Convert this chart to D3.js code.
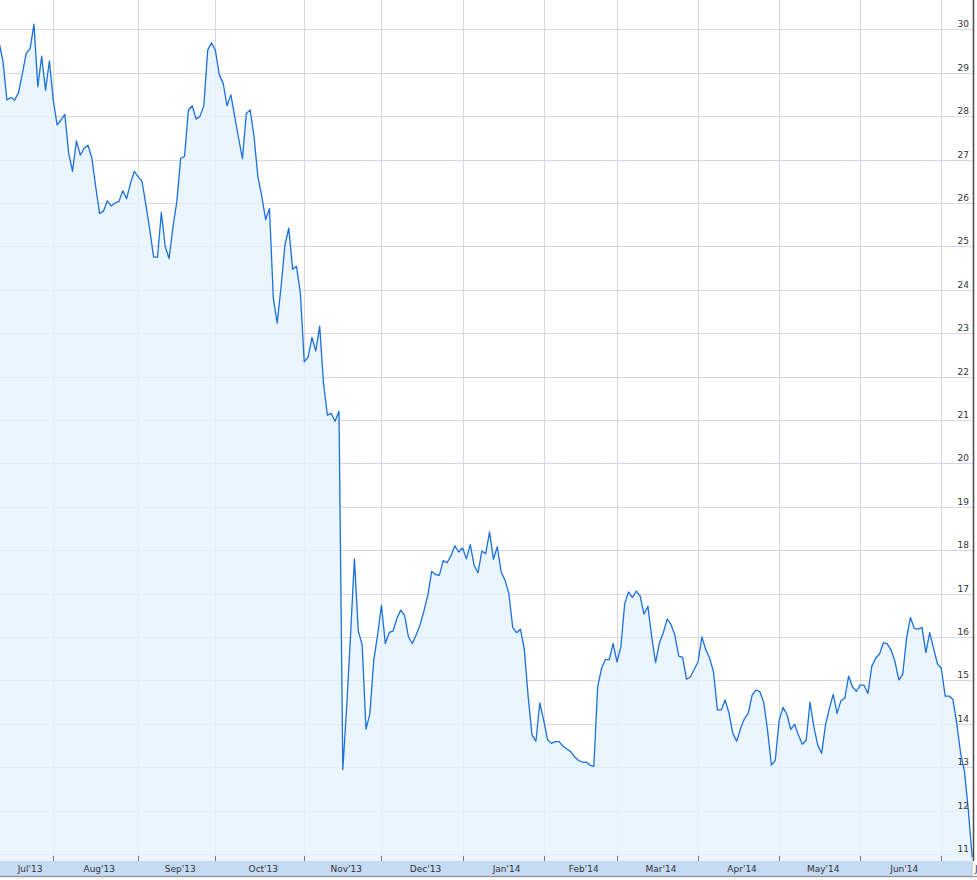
<!DOCTYPE html>
<html>
<head>
<meta charset="utf-8">
<script src="https://cdn.jsdelivr.net/npm/d3@7"></script>
<style>
  html, body { margin: 0; padding: 0; background: #fff; }
  svg { display: block; font-family: "DejaVu Sans", Verdana, sans-serif; }
</style>
</head>
<body>
<div id="chart"></div>
<script>
// daily closes, one per trading day (Jul 12 2013 .. Jul 14 2014)
var prices = [
  29.69, 29.25, 28.37, 28.43, 28.37, 28.54, 28.98, 29.45, 29.55, 30.12,
  28.68, 29.38, 28.6, 29.27, 28.37, 27.8, 27.91, 28.04, 27.14, 26.73,
  27.43, 27.1, 27.26, 27.33, 27.03, 26.37, 25.76, 25.81, 26.05, 25.93,
  26.0, 26.03, 26.28, 26.1, 26.45, 26.73, 26.6, 26.5, 25.95, 25.38,
  24.75, 24.75, 25.78, 24.99, 24.72, 25.45, 26.03, 27.03, 27.07, 28.14,
  28.24, 27.93, 28.0, 28.24, 29.52, 29.69, 29.51, 28.95, 28.76, 28.24,
  28.49, 27.99, 27.49, 27.02, 28.06, 28.14, 27.53, 26.6, 26.16, 25.62,
  25.87, 23.8, 23.23, 24.07, 25.03, 25.42, 24.47, 24.54, 23.93, 22.34,
  22.45, 22.9, 22.59, 23.16, 21.84, 21.11, 21.15, 20.97, 21.2, 12.95,
  14.41, 16.05, 17.8, 16.14, 15.82, 13.88, 14.23, 15.46, 16.05, 16.73,
  15.85, 16.1, 16.14, 16.43, 16.62, 16.5, 16.0, 15.85, 16.05, 16.28,
  16.6, 16.96, 17.51, 17.44, 17.42, 17.76, 17.71, 17.87, 18.1, 17.96,
  18.05, 17.8, 18.13, 17.65, 17.48, 17.98, 17.92, 18.42, 17.79, 18.08,
  17.5, 17.31, 17.0, 16.22, 16.1, 16.18, 15.72, 14.62, 13.74, 13.6,
  14.48, 14.09, 13.64, 13.55, 13.59, 13.59, 13.49, 13.42, 13.36, 13.24,
  13.16, 13.12, 13.12, 13.05, 13.02, 14.85, 15.28, 15.48, 15.48, 15.85,
  15.43, 15.77, 16.77, 17.04, 16.91, 17.06, 16.94, 16.53, 16.71, 16.0,
  15.41, 15.87, 16.1, 16.41, 16.29, 16.04, 15.56, 15.53, 15.03, 15.08,
  15.25, 15.43, 16.0, 15.71, 15.51, 15.2, 14.32, 14.32, 14.55, 14.25,
  13.78, 13.6, 13.89, 14.12, 14.24, 14.66, 14.78, 14.74, 14.5, 13.85,
  13.05, 13.16, 14.08, 14.38, 14.22, 13.87, 13.99, 13.74, 13.53, 13.62,
  14.5, 13.93, 13.51, 13.32, 13.97, 14.35, 14.68, 14.24, 14.53, 14.59,
  15.1, 14.85, 14.75, 14.89, 14.89, 14.7, 15.33, 15.51, 15.61, 15.87,
  15.84, 15.7, 15.43, 15.01, 15.14, 15.97, 16.45, 16.2, 16.18, 16.22,
  15.64, 16.1, 15.74, 15.38, 15.28, 14.64, 14.64, 14.56, 14.01, 13.32,
  12.9, 12.01, 10.92
]

// month labels and index of first trading day of each month
var months = ["Jul'13", "Aug'13", "Sep'13", "Oct'13", "Nov'13", "Dec'13",
  "Jan'14", "Feb'14", "Mar'14", "Apr'14", "May'14", "Jun'14", "Jul'14"]
var monthStart = [0, 14, 36, 56, 79, 99, 120, 141, 160, 181, 202, 223, 244]
var monthEnd = [14, 36, 56, 79, 99, 120, 141, 160, 181, 202, 223, 244, 266]

var yTicks = [11, 12, 13, 14, 15, 16, 17, 18, 19, 20, 21, 22, 23, 24, 25, 26, 27, 28, 29, 30]

var width = 977
var height = 880
var plotRight = 973
var plotBottom = 861

var svg = d3.select('#chart')
  .append('svg')
  .attr('width', width)
  .attr('height', height)

var xPositionScale = d3.scaleLinear()
  .domain([0, 252])
  .range([-0.8, 972.2])

var yPositionScale = d3.scaleLinear()
  .domain([10.84, 30.675])
  .range([plotBottom, 0])

// horizontal grid
svg.append('g')
  .selectAll('line')
  .data(yTicks)
  .enter()
  .append('line')
  .attr('x1', 0)
  .attr('x2', plotRight)
  .attr('y1', d => Math.round(yPositionScale(d)) + 0.5)
  .attr('y2', d => Math.round(yPositionScale(d)) + 0.5)
  .attr('stroke', '#d6d6ec')
  .attr('stroke-width', 1)

// vertical grid at month starts
svg.append('g')
  .selectAll('line')
  .data(monthStart.slice(1))
  .enter()
  .append('line')
  .attr('x1', d => Math.round(xPositionScale(d)) + 0.5)
  .attr('x2', d => Math.round(xPositionScale(d)) + 0.5)
  .attr('y1', 0)
  .attr('y2', plotBottom)
  .attr('stroke', '#d5d9d5')
  .attr('stroke-width', 1)

var area = d3.area()
  .x((d, i) => xPositionScale(i))
  .y0(plotBottom)
  .y1(d => yPositionScale(d))

var line = d3.line()
  .x((d, i) => xPositionScale(i))
  .y(d => yPositionScale(d))

svg.append('path')
  .datum(prices)
  .attr('d', area)
  .attr('fill', 'rgba(229,243,255,0.82)')

svg.append('path')
  .datum(prices)
  .attr('d', line)
  .attr('fill', 'none')
  .attr('stroke', '#1a70dc')
  .attr('stroke-width', 1.3)
  .attr('stroke-linejoin', 'round')

// bottom band with month labels
svg.append('rect')
  .attr('x', 0)
  .attr('y', plotBottom)
  .attr('width', plotRight)
  .attr('height', 15)
  .attr('fill', '#c5dbf3')

svg.append('line')
  .attr('x1', 0)
  .attr('x2', width)
  .attr('y1', 876.5)
  .attr('y2', 876.5)
  .attr('stroke', '#9a9a9a')
  .attr('stroke-width', 1.5)

svg.append('g')
  .selectAll('line')
  .data(monthStart.slice(1))
  .enter()
  .append('line')
  .attr('x1', d => Math.round(xPositionScale(d)) + 0.5)
  .attr('x2', d => Math.round(xPositionScale(d)) + 0.5)
  .attr('y1', plotBottom - 5)
  .attr('y2', plotBottom)
  .attr('stroke', '#777')

svg.append('g')
  .selectAll('text')
  .data(months)
  .enter()
  .append('text')
  .text(d => d)
  .attr('x', (d, i) => {
    var a = Math.max(0, xPositionScale(monthStart[i]))
    var b = xPositionScale(monthEnd[i])
    return (a + b) / 2 + 3.5
  })
  .attr('y', 871.5)
  .attr('text-anchor', 'middle')
  .attr('font-size', 9)
  .attr('fill', '#333')

// right axis labels
svg.append('g')
  .selectAll('text')
  .data(yTicks)
  .enter()
  .append('text')
  .text(d => d)
  .attr('x', 969)
  .attr('y', d => yPositionScale(d) - 2)
  .attr('text-anchor', 'end')
  .attr('font-size', 9)
  .attr('fill', '#333')

svg.append('line')
  .attr('x1', plotRight + 0.5)
  .attr('x2', plotRight + 0.5)
  .attr('y1', 0)
  .attr('y2', plotBottom)
  .attr('stroke', '#4a4a4a')
  .attr('stroke-width', 1.5)
</script>
</body>
</html>
